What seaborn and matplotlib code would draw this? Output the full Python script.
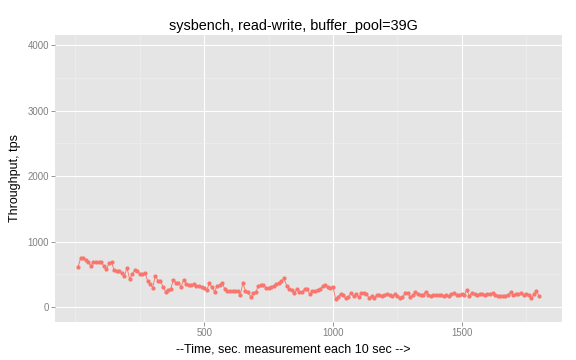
import numpy as np
import pandas as pd
import matplotlib
matplotlib.use("Agg")
import matplotlib.pyplot as plt
from matplotlib.ticker import FixedLocator
import seaborn as sns

# ---- data ----
time_sec = list(range(10, 1810, 10))
tps = [
    # 10-270
    606, 745, 745, 720, 680, 630, 690, 685, 685, 680, 630, 580, 665, 690, 560, 545, 550, 520, 470, 600, 430, 500, 560, 545, 510, 500, 515,
    # 280-520
    402, 352, 295, 478, 402, 400, 305, 234, 260, 280, 412, 372, 372, 305, 412, 357, 337, 337, 347, 327, 327, 310, 296, 260, 362,
    # 530-780
    300, 234, 320, 337, 362, 275, 245, 250, 250, 240, 240, 183, 362, 250, 234, 157, 209, 224, 320, 331, 342, 290, 295, 310, 320, 345,
    # 790-1050
    370, 392, 437, 326, 275, 260, 219, 270, 234, 234, 270, 270, 193, 245, 245, 260, 270, 321, 331, 311, 296, 311,
    122, 157, 193, 180, 132,
    # 1060-1310
    150, 218, 163, 193, 148, 208, 208, 193, 143, 163, 138, 178, 178, 170, 180, 193, 178, 163, 193, 163, 143, 148, 208, 218, 158, 178,
    # 1320-1570
    229, 200, 190, 185, 234, 185, 163, 185, 190, 188, 178, 170, 185, 163, 203, 218, 185, 178, 203, 190, 260, 163, 218, 203, 178, 203,
    # 1580-1800
    200, 180, 200, 203, 208, 180, 168, 173, 168, 173, 190, 229, 180, 193, 200, 208, 180, 203, 180, 132, 195, 249, 168,
]
x_major = [500, 1000, 1500]
x_minor = [0, 250, 750, 1250, 1750]
y_major = [0, 1000, 2000, 3000, 4000]
y_minor = [500, 1500, 2500, 3500]
title = "sysbench, read-write, buffer_pool=39G"
xlabel = "--Time, sec. measurement each 10 sec -->"
ylabel = "Throughput, tps"

df = pd.DataFrame({"time": time_sec, "tps": tps})

sns.set_theme(style="darkgrid")
plt.rcParams["font.family"] = ["Liberation Sans", "DejaVu Sans"]

fig = plt.figure(figsize=(8, 5), dpi=72)
ax = fig.add_axes([55 / 576, 1 - 322 / 360, (562 - 55) / 576, (322 - 35) / 360])
ax.set_facecolor("#E5E5E5")

sns.lineplot(data=df, x="time", y="tps", ax=ax, color="#F8766D", marker="o",
             markersize=4.2, markeredgewidth=0, linewidth=0.9)

ax.set_xlim(-79.5, 1889.5)
ax.set_ylim(-229, 4153)
ax.xaxis.set_major_locator(FixedLocator(x_major))
ax.xaxis.set_minor_locator(FixedLocator(x_minor))
ax.yaxis.set_major_locator(FixedLocator(y_major))
ax.yaxis.set_minor_locator(FixedLocator(y_minor))
ax.set_xticklabels([str(v) for v in x_major])
ax.set_yticklabels([str(v) for v in y_major])

ax.grid(which="major", color="white", linewidth=1.1)
ax.grid(which="minor", color="#F2F2F2", linewidth=0.5)
ax.set_axisbelow(True)
for s in ax.spines.values():
    s.set_visible(False)

ax.tick_params(which="major", length=4, width=0.8, color="#7F7F7F",
               labelcolor="#7F7F7F", labelsize=9.6, pad=2, bottom=True, left=True)
ax.tick_params(which="minor", length=0)

ax.set_xlabel(xlabel, fontsize=12.5, color="black", labelpad=2)
ax.set_ylabel(ylabel, fontsize=12.5, color="black", labelpad=6)
ax.xaxis.set_label_coords((293 - 55) / 507, -0.075)
ax.set_title(title, fontsize=14.4, color="black", pad=5, x=(293 - 55) / 507)

fig.savefig("out.png", dpi=72, facecolor="white")
